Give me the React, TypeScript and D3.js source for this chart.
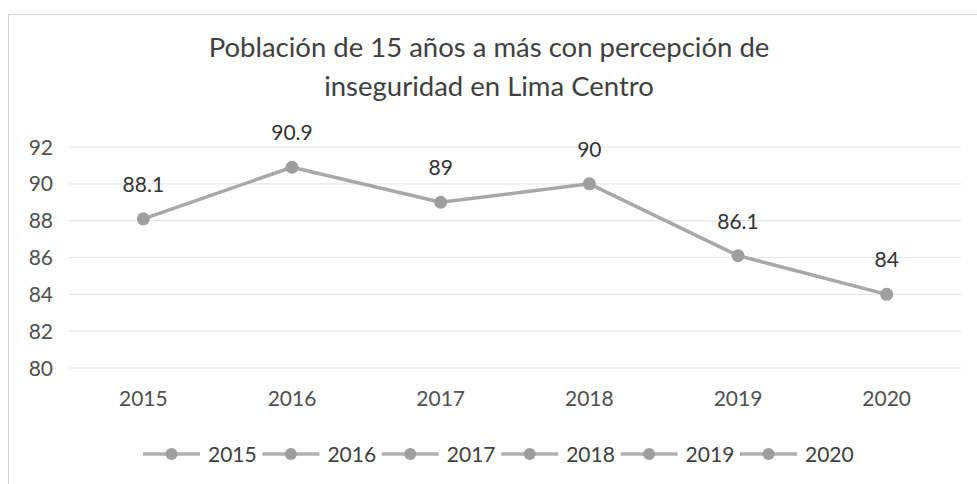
import React from "react";
import * as d3 from "d3";

const categories = ["2015", "2016", "2017", "2018", "2019", "2020"];
const values = [88.1, 90.9, 89, 90, 86.1, 84];
const yTicks = [80, 82, 84, 86, 88, 90, 92];
const titleLines = ["Población de 15 años a más con percepción de", "inseguridad en Lima Centro"];

const W = 977, H = 484;
const FONT = "Lato, 'Open Sans', sans-serif";

export default function App() {
  const x = d3.scaleBand().domain(categories).range([69, 961]);
  const y = d3.scaleLinear().domain([80, 92]).range([368, 147]);
  const cx = (c: string) => (x(c) as number) + x.bandwidth() / 2;
  const line = d3.line<number>().x((_, i) => cx(categories[i])).y((v) => y(v));

  const legendStart = 143;
  const legendStep = 119.4;

  return (
    <svg width={W} height={H} style={{ position: "absolute", left: 0, top: 0, background: "#fff" }}>
      <rect x={0} y={0} width={W} height={H} fill="#fff" />
      <rect x={8.5} y={14.5} width={W} height={H} fill="none" stroke="#d6d6d6" strokeWidth={1} />
      {titleLines.map((t, i) => (
        <text key={i} x={489} y={57 + i * 39} textAnchor="middle" fontFamily={FONT} fontSize={27.5} fill="#404040">
          {t}
        </text>
      ))}
      {yTicks.map((t) => (
        <g key={t}>
          <line x1={69} x2={961} y1={y(t)} y2={y(t)} stroke="#e6e6e6" strokeWidth={1.2} />
          <text x={53} y={y(t) + 7.5} textAnchor="end" fontFamily={FONT} fontSize={21} fill="#505050">
            {t}
          </text>
        </g>
      ))}
      {categories.map((c) => (
        <text key={c} x={cx(c)} y={406} textAnchor="middle" fontFamily={FONT} fontSize={21} fill="#505050">
          {c}
        </text>
      ))}
      <path d={line(values) || ""} fill="none" stroke="#a8a8a8" strokeWidth={3.5} strokeLinejoin="round" />
      {values.map((v, i) => (
        <g key={i}>
          <circle cx={cx(categories[i])} cy={y(v)} r={6.5} fill="#9e9e9e" />
          <text x={cx(categories[i])} y={y(v) - 27} textAnchor="middle" fontFamily={FONT} fontSize={21} fill="#333">
            {String(v)}
          </text>
        </g>
      ))}
      {categories.map((c, i) => {
        const lx = legendStart + i * legendStep;
        return (
          <g key={c}>
            <line x1={lx} x2={lx + 57} y1={454} y2={454} stroke="#b0b0b0" strokeWidth={3.5} />
            <circle cx={lx + 28.5} cy={454} r={6} fill="#9e9e9e" />
            <text x={lx + 65} y={462} fontFamily={FONT} fontSize={21} fill="#404040">
              {c}
            </text>
          </g>
        );
      })}
    </svg>
  );
}
